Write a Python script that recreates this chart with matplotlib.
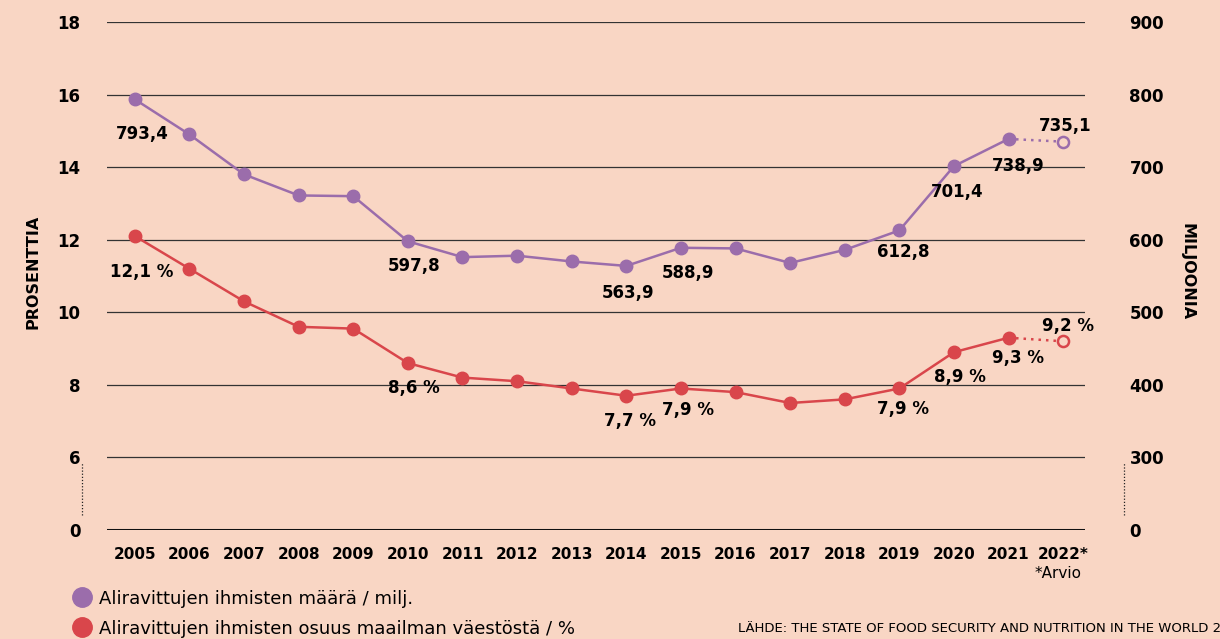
import numpy as np
import matplotlib
matplotlib.use("Agg")
import matplotlib.pyplot as plt
from matplotlib.lines import Line2D
from matplotlib.transforms import blended_transform_factory

# data
years = list(range(2005, 2023))
year_labels = [str(y) for y in years[:-1]] + ["2022*"]
millions = [793.4, 745, 690, 661, 660, 597.8, 576, 578, 570, 563.9,
            588.9, 588, 568, 586, 612.8, 701.4, 738.9, 735.1]
percent = [12.1, 11.2, 10.3, 9.6, 9.55, 8.6, 8.2, 8.1, 7.9, 7.7,
           7.9, 7.8, 7.5, 7.6, 7.9, 8.9, 9.3, 9.2]

left_ticks = [4, 6, 8, 10, 12, 14, 16, 18]     # 4 is drawn as "0" (broken axis)
left_labels = ["0", "6", "8", "10", "12", "14", "16", "18"]
right_labels = ["0", "300", "400", "500", "600", "700", "800", "900"]

# labelled points: (year index, text, x offset px, y offset px)
mil_notes = [(0, "793,4", 7, -35), (5, "597,8", 6, -25), (9, "563,9", 2, -27),
             (10, "588,9", 7, -25), (14, "612,8", 4, -22), (15, "701,4", 3, -26),
             (16, "738,9", 10, -27), (17, "735,1", 2, 16)]
pct_notes = [(0, "12,1 %", 7, -36), (5, "8,6 %", 6, -25), (9, "7,7 %", 4, -25),
             (10, "7,9 %", 7, -22), (14, "7,9 %", 4, -21), (15, "8,9 %", 6, -25),
             (16, "9,3 %", 9, -20), (17, "9,2 %", 5, 15)]

bg = "#f9d6c4"
purple = "#9b6dab"
red = "#d9464b"

fig = plt.figure(figsize=(12.2, 6.39), dpi=100, facecolor=bg)
ax = fig.add_axes([107 / 1220, 109 / 639, 978 / 1220, 508 / 639])
ax.set_facecolor(bg)

mil_scaled = [m / 50 for m in millions]   # 900 milj. = 18 %

for vals, col in [(mil_scaled, purple), (percent, red)]:
    ax.plot(years[:-1], vals[:-1], color=col, lw=1.8, marker="o", ms=9, zorder=3)
    ax.plot(years[-2:], vals[-2:], color=col, lw=1.8, ls=(0, (1, 2)), zorder=3)
    ax.plot(years[-1], vals[-1], marker="o", ms=8, mfc=bg, mec=col, mew=1.8, zorder=4)

for i, txt, dx, dy in mil_notes:
    ax.annotate(txt, (years[i], mil_scaled[i]), xytext=(dx, dy), textcoords="offset pixels",
                ha="center", va="center", fontsize=12, fontweight="bold", zorder=5)
for i, txt, dx, dy in pct_notes:
    ax.annotate(txt, (years[i], percent[i]), xytext=(dx, dy), textcoords="offset pixels",
                ha="center", va="center", fontsize=12, fontweight="bold", zorder=5)

# grid lines and baseline
for t in left_ticks[1:]:
    ax.axhline(t, color="#333333", lw=0.9, zorder=1)
ax.axhline(4, color="#111111", lw=2.2, zorder=1)

ax.set_xlim(2004.49, 2022.40)
ax.set_ylim(4, 18)
for s in ax.spines.values():
    s.set_visible(False)

ax.set_xticks(years)
ax.set_xticklabels(year_labels, fontsize=11, fontweight="bold")
ax.set_yticks(left_ticks)
ax.set_yticklabels(left_labels, fontsize=12, fontweight="bold")
ax.tick_params(axis="x", length=0, pad=12)
ax.tick_params(axis="y", length=0, pad=19)

ax2 = ax.twinx()
ax2.set_ylim(4, 18)
ax2.set_yticks(left_ticks)
ax2.set_yticklabels(right_labels, fontsize=12, fontweight="bold")
ax2.tick_params(axis="y", length=0, pad=32)
for s in ax2.spines.values():
    s.set_visible(False)

# dotted axis breaks
tr = blended_transform_factory(fig.transFigure, ax.transData)
for xf in [82 / 1220, 1124 / 1220]:
    ax.plot([xf, xf], [4.4, 5.85], transform=tr, color="#222222", lw=0.9,
            ls=(0, (1, 1.5)), clip_on=False)

fig.text(33 / 1220, 1 - 272 / 639, "PROSENTTIA", rotation=90, ha="center", va="center",
         fontsize=11.5, fontweight="bold")
fig.text(1187 / 1220, 1 - 272 / 639, "MILJOONIA", rotation=270, ha="center", va="center",
         fontsize=11.5, fontweight="bold")

fig.text(1082 / 1220, 1 - 574 / 639, "*Arvio", ha="right", va="center", fontsize=11)

# legend
fig.lines.append(Line2D([82 / 1220], [1 - 597 / 639], marker="o", ms=14,
                        color=purple, transform=fig.transFigure))
fig.lines.append(Line2D([82 / 1220], [1 - 627 / 639], marker="o", ms=14,
                        color=red, transform=fig.transFigure))
fig.text(99 / 1220, 1 - 599 / 639, "Aliravittujen ihmisten määrä / milj.", ha="left",
         va="center", fontsize=13)
fig.text(99 / 1220, 1 - 629 / 639, "Aliravittujen ihmisten osuus maailman väestöstä / %",
         ha="left", va="center", fontsize=13)

fig.text(738 / 1220, 1 - 628 / 639,
         "LÄHDE: THE STATE OF FOOD SECURITY AND NUTRITION IN THE WORLD 2023",
         ha="left", va="center", fontsize=9.5)

fig.savefig("out.png", dpi=100, facecolor=bg)
